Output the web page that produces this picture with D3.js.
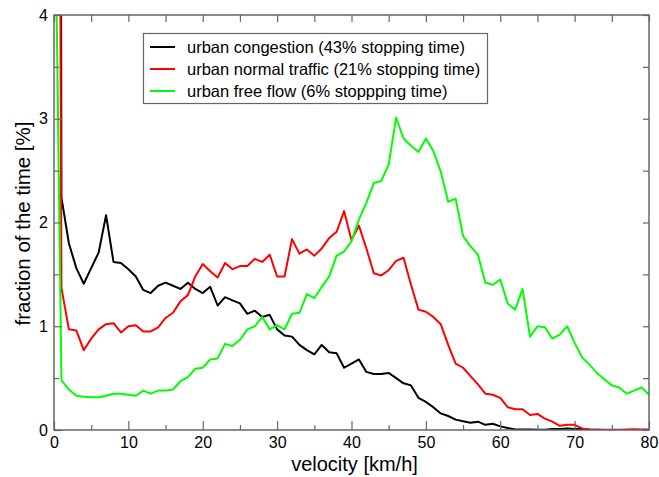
<!DOCTYPE html>
<html>
<head>
<meta charset="utf-8">
<script src="https://cdn.jsdelivr.net/npm/d3@7"></script>
<style>
  body { margin: 0; background: #fff; }
  svg { display: block; font-family: "Liberation Sans", Arial, sans-serif; }
</style>
</head>
<body>
<div id="chart"></div>
<script>
// velocity bins, 0..80 km/h
var velocity = d3.range(0, 81);

var congestion = [43, 2.24, 1.80, 1.56, 1.41, 1.56, 1.71, 2.07, 1.62, 1.61,
  1.55, 1.48, 1.35, 1.32, 1.39, 1.42, 1.39, 1.36, 1.42, 1.36,
  1.32, 1.38, 1.20, 1.28, 1.25, 1.22, 1.12, 1.15, 1.09, 1.11,
  0.97, 0.91, 0.90, 0.82, 0.77, 0.73, 0.82, 0.75, 0.74, 0.60,
  0.64, 0.68, 0.56, 0.54, 0.54, 0.55, 0.50, 0.45, 0.43, 0.31,
  0.27, 0.22, 0.16, 0.135, 0.10, 0.085, 0.07, 0.08, 0.05, 0.06,
  0.035, 0.02, 0.005, 0.005, 0.005, 0.003, 0.003, 0.01, 0.01, 0.015,
  0.01, 0.01, 0.005, 0.002, 0, 0, 0, 0, 0, 0, 0];

var normal = [21, 1.37, 0.97, 0.96, 0.77, 0.88, 0.97, 1.02, 1.03, 0.94,
  1.00, 1.01, 0.95, 0.95, 0.99, 1.08, 1.13, 1.24, 1.30, 1.48,
  1.60, 1.53, 1.47, 1.61, 1.55, 1.58, 1.58, 1.65, 1.62, 1.69,
  1.48, 1.48, 1.84, 1.70, 1.74, 1.68, 1.75, 1.85, 1.91, 2.11,
  1.83, 1.97, 1.75, 1.51, 1.49, 1.54, 1.63, 1.66, 1.40, 1.16,
  1.14, 1.09, 1.02, 0.82, 0.64, 0.60, 0.52, 0.44, 0.35, 0.34,
  0.31, 0.22, 0.20, 0.20, 0.145, 0.155, 0.11, 0.08, 0.04, 0.05,
  0.05, 0.015, 0.005, 0.003, 0.002, 0.002, 0.003, 0.005, 0.008, 0.004, 0.005];

var freeFlow = [6, 0.48, 0.39, 0.33, 0.32, 0.315, 0.315, 0.33, 0.35, 0.35,
  0.34, 0.33, 0.38, 0.35, 0.38, 0.38, 0.39, 0.47, 0.51, 0.59,
  0.60, 0.68, 0.69, 0.83, 0.81, 0.87, 0.97, 1.00, 1.09, 0.97,
  1.01, 0.97, 1.12, 1.13, 1.31, 1.27, 1.38, 1.48, 1.68, 1.72,
  1.82, 2.03, 2.19, 2.38, 2.40, 2.56, 3.01, 2.81, 2.74, 2.68,
  2.81, 2.69, 2.49, 2.20, 2.23, 1.87, 1.77, 1.69, 1.42, 1.40,
  1.45, 1.22, 1.16, 1.36, 0.90, 1.00, 0.99, 0.88, 0.92, 1.00,
  0.84, 0.70, 0.63, 0.55, 0.49, 0.43, 0.41, 0.35, 0.38, 0.41, 0.34];

var seriesNames = ["urban congestion (43% stopping time)",
  "urban normal traffic (21% stopping time)",
  "urban free flow (6% stoppping time)"];
var seriesColors = ["#000000", "#ff0000", "#00ff00"];

var xTicks = [0, 10, 20, 30, 40, 50, 60, 70, 80];
var yTicks = [0, 1, 2, 3, 4];

var width = 659, height = 477;
var margin = {top: 15, right: 10, bottom: 47, left: 54};

var svg = d3.select("#chart").append("svg")
    .attr("width", width)
    .attr("height", height);

var x = d3.scaleLinear().domain([0, 80]).range([margin.left, width - margin.right]);
var y = d3.scaleLinear().domain([0, 4]).range([height - margin.bottom, margin.top]);

// Clip lines to the plot box (the stop values go far off the top)
svg.append("clipPath").attr("id", "plot-clip")
  .append("rect")
    .attr("x", x(0)).attr("y", y(4))
    .attr("width", x(80) - x(0)).attr("height", y(0) - y(4));

var line = d3.line()
    .x(function(d, i) { return x(velocity[i]); })
    .y(function(d) { return y(d); });

var data = [congestion, normal, freeFlow];

svg.append("g").attr("clip-path", "url(#plot-clip)")
  .selectAll("path").data(data)
  .enter().append("path")
    .attr("d", line)
    .attr("fill", "none")
    .attr("stroke", function(d, i) { return seriesColors[i]; })
    .attr("stroke-width", 2)
    .attr("stroke-linejoin", "round");

// Axes: ticks point inwards on all four sides
var frame = "#666";
var minorX = d3.range(5, 80, 10), minorY = d3.range(0.5, 4, 1);
var fmt = d3.format("d");

function styleAxis(g) {
  g.select(".domain").remove();
  g.selectAll(".tick line").attr("stroke", frame).attr("stroke-width", 1.2);
  g.selectAll(".tick text").attr("fill", "#000").attr("font-size", 16);
}

svg.append("g")
    .attr("transform", "translate(0," + y(0) + ")")
    .call(d3.axisBottom(x).tickValues(xTicks).tickFormat(fmt).tickSize(-9).tickPadding(7))
    .call(styleAxis);
svg.append("g")
    .attr("transform", "translate(0," + y(0) + ")")
    .call(d3.axisBottom(x).tickValues(minorX).tickSize(-5).tickFormat(""))
    .call(styleAxis);
svg.append("g")
    .attr("transform", "translate(0," + y(4) + ")")
    .call(d3.axisTop(x).tickValues(xTicks.concat(minorX)).tickSize(-7).tickFormat(""))
    .call(styleAxis);

svg.append("g")
    .attr("transform", "translate(" + x(0) + ",0)")
    .call(d3.axisLeft(y).tickValues(yTicks).tickFormat(fmt).tickSize(-8).tickPadding(6))
    .call(styleAxis);
svg.append("g")
    .attr("transform", "translate(" + x(0) + ",0)")
    .call(d3.axisLeft(y).tickValues(minorY).tickSize(-5).tickFormat(""))
    .call(styleAxis);
svg.append("g")
    .attr("transform", "translate(" + x(80) + ",0)")
    .call(d3.axisRight(y).tickValues(yTicks.concat(minorY)).tickSize(-6).tickFormat(""))
    .call(styleAxis);

svg.append("rect")
    .attr("x", x(0)).attr("y", y(4))
    .attr("width", x(80) - x(0)).attr("height", y(0) - y(4))
    .attr("fill", "none")
    .attr("stroke", frame)
    .attr("stroke-width", 1.5);

// Axis titles
svg.append("text")
    .attr("x", (x(0) + x(80)) / 2 + 3)
    .attr("y", 471)
    .attr("text-anchor", "middle")
    .attr("font-size", 20)
    .text("velocity [km/h]");

svg.append("text")
    .attr("transform", "translate(30," + ((y(0) + y(4)) / 2 + 1) + ") rotate(-90)")
    .attr("text-anchor", "middle")
    .attr("font-size", 20.5)
    .text("fraction of the time [%]");

// Legend
var legend = svg.append("g");
legend.append("rect")
    .attr("x", 143.5).attr("y", 33.5)
    .attr("width", 344).attr("height", 70)
    .attr("fill", "#fff")
    .attr("stroke", frame)
    .attr("stroke-width", 1.2);

var rows = legend.selectAll("g.row").data(seriesNames)
  .enter().append("g")
    .attr("transform", function(d, i) { return "translate(0," + (47 + i * 22) + ")"; });
rows.append("line")
    .attr("x1", 150).attr("x2", 175)
    .attr("stroke", function(d, i) { return seriesColors[i]; })
    .attr("stroke-width", 2);
rows.append("text")
    .attr("x", 187)
    .attr("dy", "0.35em")
    .attr("font-size", 16.5)
    .text(function(d) { return d; });
</script>
</body>
</html>
